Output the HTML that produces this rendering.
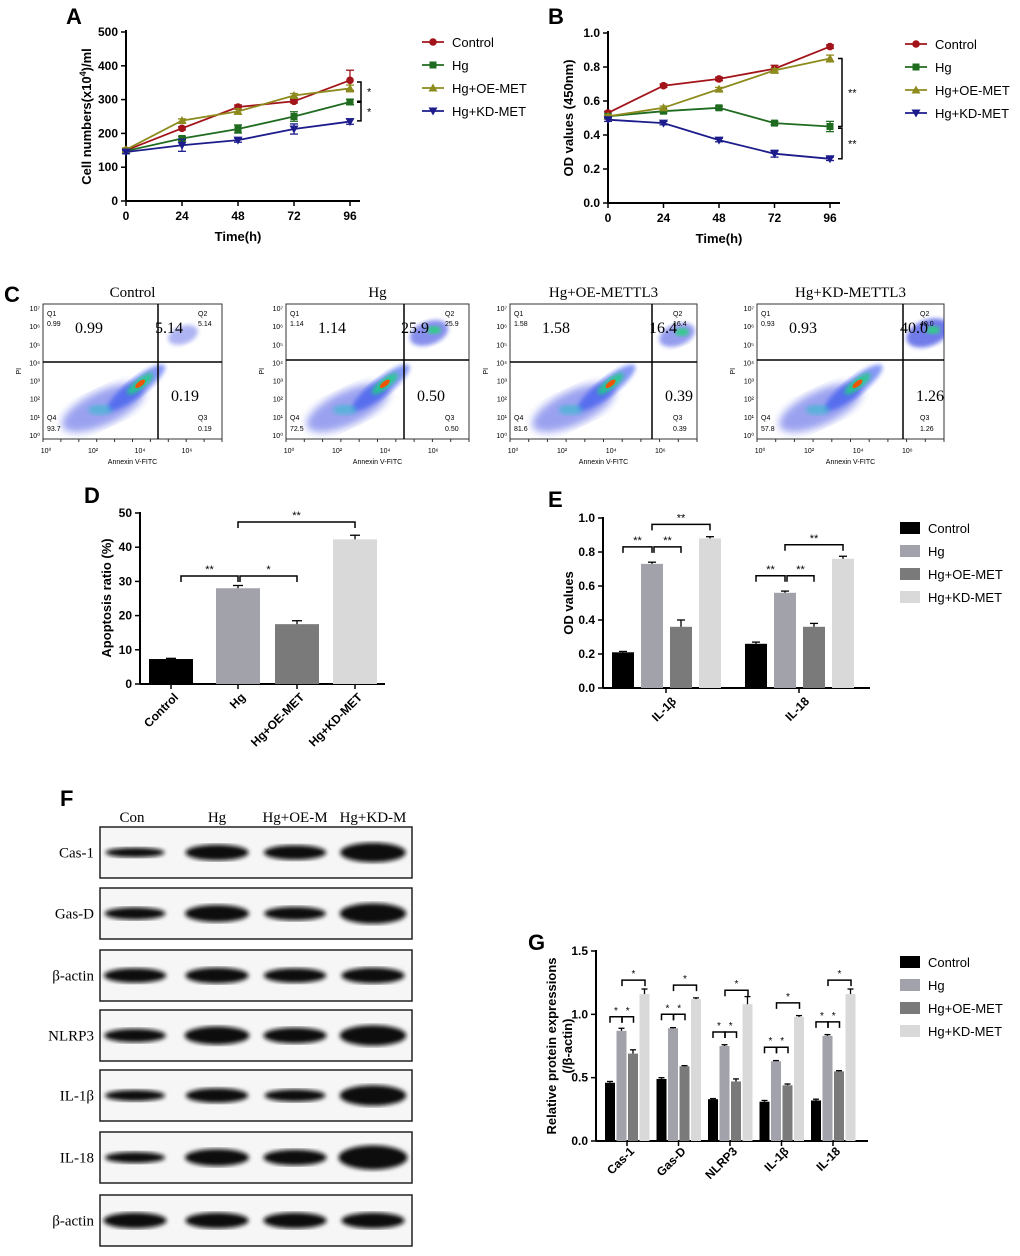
<!DOCTYPE html>
<html><head><meta charset="utf-8"><style>
body{margin:0;background:#fff}
svg{display:block}
text{font-family:"Liberation Sans",sans-serif}
.t{font-family:"Liberation Serif",serif}
</style></head><body>
<svg id="fig" width="1020" height="1256" viewBox="0 0 1020 1256" xmlns="http://www.w3.org/2000/svg">
<defs>
<filter id="blur2"><feGaussianBlur stdDeviation="2"/></filter>
<filter id="blur4"><feGaussianBlur stdDeviation="4"/></filter>
</defs>
</svg>
<script>
// ---------- data ----------
const timePoints=[0,24,48,72,96];
const groupNames=["Control","Hg","Hg+OE-MET","Hg+KD-MET"];
const cellControl=[150,215,278,295,357];
const cellHg=[148,185,213,250,293];
const cellOE=[152,238,265,312,333];
const cellKD=[145,165,180,213,235];
const cellErr=[[5,5,6,5,30],[5,6,12,14,8],[5,5,8,6,10],[5,18,6,15,8]];
const odControl=[0.53,0.69,0.73,0.79,0.92];
const odHg=[0.51,0.54,0.56,0.47,0.45];
const odOE=[0.51,0.56,0.67,0.78,0.85];
const odKD=[0.49,0.47,0.37,0.29,0.26];
const odErr=[[0.01,0.01,0.01,0.02,0.01],[0.01,0.01,0.01,0.01,0.03],[0.01,0.01,0.01,0.01,0.02],[0.01,0.01,0.01,0.02,0.01]];
const yTicksA=[0,100,200,300,400,500];
const yTicksB=[0,0.2,0.4,0.6,0.8,1.0];
const flowTitles=["Control","Hg","Hg+OE-METTL3","Hg+KD-METTL3"];
const flowQ1=["0.99","1.14","1.58","0.93"];
const flowQ2=["5.14","25.9","16.4","40.0"];
const flowQ3=["0.19","0.50","0.39","1.26"];
const flowQ4=["93.7","72.5","81.6","57.8"];
const apopCats=["Control","Hg","Hg+OE-MET","Hg+KD-MET"];
const apopVals=[7.3,28,17.5,42.3];
const apopErr=[0.2,0.8,1.0,1.2];
const yTicksD=[0,10,20,30,40,50];
const odCats=["IL-1β","IL-18"];
const odVals=[[0.21,0.26],[0.73,0.56],[0.36,0.36],[0.88,0.76]];
const odErrE=[[0.005,0.01],[0.01,0.01],[0.04,0.02],[0.01,0.015]];
const yTicksE=[0,0.2,0.4,0.6,0.8,1.0];
const blotLabels=["Cas-1","Gas-D","β-actin","NLRP3","IL-1β","IL-18","β-actin"];
const blotLanes=["Con","Hg","Hg+OE-M","Hg+KD-M"];
const blotIntensity=[[4,9,8,12],[6,10,7,13],[8,9,8,9],[7,11,9,13],[5,8,6,13],[5,10,9,16],[9,9,9,9]];
const protCats=["Cas-1","Gas-D","NLRP3","IL-1β","IL-18"];
const protVals=[[0.46,0.49,0.33,0.31,0.32],[0.87,0.89,0.75,0.63,0.83],[0.69,0.59,0.47,0.44,0.55],[1.16,1.12,1.08,0.98,1.16]];
const protErr=[[0.01,0.01,0.005,0.01,0.01],[0.02,0.005,0.01,0.005,0.01],[0.03,0.005,0.02,0.01,0.005],[0.04,0.01,0.06,0.01,0.04]];
const yTicksG=[0,0.5,1.0,1.5];

// ---------- helpers ----------
const S=document.getElementById('fig');
const NS="http://www.w3.org/2000/svg";
function mk(tag,attrs,parent){const e=document.createElementNS(NS,tag);for(const k in attrs)e.setAttribute(k,attrs[k]);(parent||S).appendChild(e);return e;}
function tx(x,y,s,attrs,parent){const e=mk('text',Object.assign({x:x,y:y},attrs||{}),parent);e.textContent=s;return e;}
function grp(name){const g=mk('g',{});return g;}

const lineColors=["#a3141a","#1f6b1f","#8d8b1d","#1c1c8c"];
const barColors=["#000000","#a2a2aa","#7a7a7a","#d9d9d9"];

function marker(g,shape,x,y,c){
  if(shape===0)mk('circle',{cx:x,cy:y,r:3.8,fill:c},g);
  else if(shape===1)mk('rect',{x:x-3.5,y:y-3.5,width:7,height:7,fill:c},g);
  else if(shape===2)mk('polygon',{points:`${x},${y-4.5} ${x-4.5},${y+3.5} ${x+4.5},${y+3.5}`,fill:c},g);
  else mk('polygon',{points:`${x},${y+4.5} ${x-4.5},${y-3.5} ${x+4.5},${y-3.5}`,fill:c},g);
}
function panelLetter(x,y,s){const t=tx(x,y,s,{'font-size':22,'font-weight':'bold'});}

// ---------- line chart ----------
function lineChart(name,x0,x1,yb,yt,ymax,yTicks,fmt,series,errs,ytitle,legendX,legendY,brackets){
  const g=grp(name);
  const xs=t=>x0+t/96*(x1-x0);
  const ys=v=>yb-v/ymax*(yb-yt);
  mk('line',{x1:x0,y1:yt-2,x2:x0,y2:yb,stroke:'#000','stroke-width':2},g);
  mk('line',{x1:x0,y1:yb,x2:x1+10,y2:yb,stroke:'#000','stroke-width':2},g);
  yTicks.forEach(v=>{mk('line',{x1:x0-5,y1:ys(v),x2:x0,y2:ys(v),stroke:'#000','stroke-width':1.5},g);
    const t=tx(x0-8,ys(v)+4,fmt(v),{'font-size':12,'font-weight':'bold','text-anchor':'end'},g);});
  timePoints.forEach(v=>{mk('line',{x1:xs(v),y1:yb,x2:xs(v),y2:yb+5,stroke:'#000','stroke-width':1.5},g);
    const t=tx(xs(v),yb+19,String(v),{'font-size':12,'font-weight':'bold','text-anchor':'middle'},g);});
  const xt=tx((x0+x1)/2,yb+40,'Time(h)',{'font-size':13,'font-weight':'bold','text-anchor':'middle'},g);
  
  const yt2=tx(0,0,'',{'font-size':13,'font-weight':'bold','text-anchor':'middle',transform:`translate(${x0-35},${(yb+yt)/2}) rotate(-90)`},g);
  yt2.innerHTML=ytitle;
  series.forEach((s,i)=>{
    const pts=s.map((v,j)=>xs(timePoints[j])+','+ys(v)).join(' ');
    const pl=mk('polyline',{points:pts,fill:'none',stroke:lineColors[i],'stroke-width':1.8},g);
    
    s.forEach((v,j)=>{const x=xs(timePoints[j]);const e=errs[i][j];
      mk('line',{x1:x,y1:ys(v+e),x2:x,y2:ys(v-e),stroke:lineColors[i],'stroke-width':1.3},g);
      mk('line',{x1:x-4,y1:ys(v+e),x2:x+4,y2:ys(v+e),stroke:lineColors[i],'stroke-width':1.3},g);
      mk('line',{x1:x-4,y1:ys(v-e),x2:x+4,y2:ys(v-e),stroke:lineColors[i],'stroke-width':1.3},g);
      marker(g,i,x,ys(v),lineColors[i]);});
    const ly=legendY+i*23;
    const lg=grp('legend-entry-'+groupNames[i].toLowerCase());
    mk('line',{x1:legendX,y1:ly,x2:legendX+22,y2:ly,stroke:lineColors[i],'stroke-width':1.8},lg);
    marker(lg,i,legendX+11,ly,lineColors[i]);
    tx(legendX+30,ly+5,groupNames[i],{'font-size':13},lg);
  });
  brackets.forEach(b=>{
    const bx=b[0],y1=ys(b[1]),y2=ys(b[2]);
    const bg=grp('significance-bracket');
    mk('polyline',{points:`${bx-4},${y1} ${bx},${y1} ${bx},${y2} ${bx-4},${y2}`,fill:'none',stroke:'#000','stroke-width':1.5},bg);
    tx(bx+6,(y1+y2)/2+4,b[3],{'font-size':11},bg);
  });
}
panelLetter(66,24,'A');
lineChart('cell-number-chart',126,350,201,32,500,yTicksA,v=>String(v),[cellControl,cellHg,cellOE,cellKD],cellErr,'Cell numbers(x10<tspan dy="-5" font-size="9">4</tspan><tspan dy="5">)/ml</tspan>',422,42,[[361,352,295,'*'],[361,292,237,'*']]);
panelLetter(548,24,'B');
lineChart('od-value-chart',608,830,203,33,1.0,yTicksB,v=>v.toFixed(1),[odControl,odHg,odOE,odKD],odErr,'OD values (450nm)',905,44,[[842,0.85,0.45,'**'],[842,0.44,0.26,'**']]);

// ---------- flow plots ----------
panelLetter(4,302,'C');
const flowBoxes=[[43,222,158,362],[286,469,404,360],[510,697,652,362],[757,944,903,360]];
const flowCore=[[0.15],[0.6],[0.45],[0.85]];
flowTitles.forEach((ttl,i)=>{
  const [l,r,vx,hy]=flowBoxes[i];const top=304,bot=439;
  const g=grp('flow-plot-'+(i+1));
  tx((l+r)/2,297,ttl,{'font-size':15,'text-anchor':'middle',class:'t'},g);
  mk('rect',{x:l,y:top,width:r-l,height:bot-top,fill:'#fff',stroke:'#333','stroke-width':1},g);
  const cp=mk('clipPath',{id:'clip'+i},g);
  mk('rect',{x:l,y:top,width:r-l,height:bot-top},cp);
  const c=mk('g',{'clip-path':`url(#clip${i})`},g);
  const cx=l+(r-l)*0.42,cy=top+(bot-top)*0.68;
  mk('ellipse',{cx:cx-15,cy:cy+12,rx:45,ry:17,fill:'#2233dd',opacity:0.45,transform:`rotate(-25 ${cx-15} ${cy+12})`,filter:'url(#blur4)'},c);
  mk('ellipse',{cx:cx+18,cy:cy-8,rx:36,ry:9,fill:'#2244ee',opacity:0.55,transform:`rotate(-38 ${cx+18} ${cy-8})`,filter:'url(#blur2)'},c);
  mk('ellipse',{cx:cx+22,cy:cy-12,rx:16,ry:5,fill:'#22cc88',opacity:0.9,transform:`rotate(-38 ${cx+22} ${cy-12})`,filter:'url(#blur2)'},c);
  mk('ellipse',{cx:cx+22,cy:cy-12,rx:6,ry:2.5,fill:'#ee5500',transform:`rotate(-38 ${cx+22} ${cy-12})`},c);
  mk('ellipse',{cx:cx-18,cy:cy+14,rx:12,ry:5,fill:'#33bbcc',opacity:0.6,filter:'url(#blur2)'},c);
  const q=flowCore[i][0];
  mk('ellipse',{cx:vx+25,cy:hy-27,rx:14+q*10,ry:8+q*6,fill:'#2233dd',opacity:0.3+q*0.4,transform:`rotate(-20 ${vx+25} ${hy-27})`,filter:'url(#blur2)'},c);
  if(i>0)mk('ellipse',{cx:vx+30,cy:hy-30,rx:7,ry:4,fill:'#33cc88',filter:'url(#blur2)'},c);
  mk('line',{x1:vx,y1:top,x2:vx,y2:bot,stroke:'#000','stroke-width':1.5},g);
  mk('line',{x1:l,y1:hy,x2:r,y2:hy,stroke:'#000','stroke-width':1.5},g);
  tx(l+4,top+12,'Q1',{'font-size':7},g);tx(l+4,top+22,flowQ1[i],{'font-size':7},g);
  tx(r-24,top+12,'Q2',{'font-size':7},g);tx(r-24,top+22,flowQ2[i],{'font-size':7},g);
  tx(l+4,bot-19,'Q4',{'font-size':7},g);tx(l+4,bot-8,flowQ4[i],{'font-size':7},g);
  tx(r-24,bot-19,'Q3',{'font-size':7},g);tx(r-24,bot-8,flowQ3[i],{'font-size':7},g);
  tx(l+32,top+29,flowQ1[i],{'font-size':16,class:'t'},g);
  tx(vx-3,top+29,flowQ2[i],{'font-size':16,class:'t'},g);
  tx(vx+13,bot-38,flowQ3[i],{'font-size':16,class:'t'},g);
  const yl=['10⁷','10⁶','10⁵','10⁴','10³','10²','10¹','10⁰'];
  yl.forEach((s,k)=>tx(l-3,top+7+k*(bot-top-8)/7,s,{'font-size':7,'text-anchor':'end'},g));
  ['10⁰','10²','10⁴','10⁶'].forEach((s,k)=>tx(l+3+k*47*(r-l)/179,bot+14,s,{'font-size':7,'text-anchor':'middle'},g));
  for(let k=0;k<=10;k++)mk('line',{x1:l+k*(r-l)/10,y1:bot,x2:l+k*(r-l)/10,y2:bot+3,stroke:'#333'},g);
  tx((l+r)/2,bot+25,'Annexin V-FITC',{'font-size':7,'text-anchor':'middle'},g);
  tx(0,0,'PI',{'font-size':7,transform:`translate(${l-22},${(top+bot)/2+3}) rotate(-90)`},g);
});

// ---------- bar chart helper ----------
function axisY(g,x0,yb,yt,vmax,ticks,fmt){
  const ys=v=>yb-v/vmax*(yb-yt);
  mk('line',{x1:x0,y1:yt-1,x2:x0,y2:yb,stroke:'#000','stroke-width':2},g);
  ticks.forEach(v=>{mk('line',{x1:x0-5,y1:ys(v),x2:x0,y2:ys(v),stroke:'#000','stroke-width':1.5},g);
    const t=tx(x0-8,ys(v)+4,fmt(v),{'font-size':12,'font-weight':'bold','text-anchor':'end'},g);});
  return ys;
}
function errBar(g,x,ytop,yerr,w){mk('line',{x1:x,y1:ytop,x2:x,y2:yerr,stroke:'#000','stroke-width':1.3},g);mk('line',{x1:x-w,y1:yerr,x2:x+w,y2:yerr,stroke:'#000','stroke-width':1.3},g);}
function bracket(g,x1,x2,y,s,fs){mk('polyline',{points:`${x1},${y+6} ${x1},${y} ${x2},${y} ${x2},${y+6}`,fill:'none',stroke:'#000','stroke-width':1.5},g);tx((x1+x2)/2,y-3,s,{'font-size':fs||11,'text-anchor':'middle'},g);}

// ---------- D ----------
panelLetter(84,503,'D');
(function(){
  const g=grp('apoptosis-chart');
  const ys=axisY(g,140,684,513,50,yTicksD,v=>String(v));
  mk('line',{x1:140,y1:684,x2:385,y2:684,stroke:'#000','stroke-width':2},g);
  const cx=[171,238,297,355];
  apopVals.forEach((v,i)=>{
    const b=mk('rect',{x:cx[i]-22,y:ys(v),width:44,height:684-ys(v),fill:barColors[i]},g);
    
    errBar(g,cx[i],ys(v),ys(v+apopErr[i]),5);
    mk('line',{x1:cx[i],y1:684,x2:cx[i],y2:689,stroke:'#000','stroke-width':1.5},g);
    tx(0,0,apopCats[i],{'font-size':12,'font-weight':'bold','text-anchor':'end',transform:`translate(${cx[i]+8},${698}) rotate(-45)`},g);
  });
  tx(0,0,'Apoptosis ratio (%)',{'font-size':13,'font-weight':'bold','text-anchor':'middle',transform:`translate(111,598) rotate(-90)`},g);
  bracket(g,181,238,576,'**');bracket(g,240,297,576,'*');bracket(g,238,355,522,'**');
})();

// ---------- E ----------
panelLetter(548,507,'E');
(function(){
  const g=grp('il-od-chart');
  const ys=axisY(g,603,688,518,1.0,yTicksE,v=>v.toFixed(1));
  mk('line',{x1:603,y1:688,x2:870,y2:688,stroke:'#000','stroke-width':2},g);
  const gx=[612,745];
  odCats.forEach((c,j)=>{
    for(let i=0;i<4;i++){const x=gx[j]+i*29;const v=odVals[i][j];
      const b=mk('rect',{x:x,y:ys(v),width:22,height:688-ys(v),fill:barColors[i]},g);
      
      errBar(g,x+11,ys(v),ys(v+odErrE[i][j]),4);}
    mk('line',{x1:gx[j]+54,y1:688,x2:gx[j]+54,y2:693,stroke:'#000','stroke-width':1.5},g);
    tx(0,0,c,{'font-size':12,'font-weight':'bold','text-anchor':'end',transform:`translate(${gx[j]+65},${702}) rotate(-45)`},g);
    bracket(g,gx[j]+11,gx[j]+40,ys(odVals[1][j])-17,'**');
    bracket(g,gx[j]+42,gx[j]+69,ys(odVals[1][j])-17,'**');
    bracket(g,gx[j]+40,gx[j]+98,ys(odVals[3][j])-14,'**');
  });
  tx(0,0,'OD values',{'font-size':13,'font-weight':'bold','text-anchor':'middle',transform:`translate(573,603) rotate(-90)`},g);
  groupNames.forEach((n,i)=>{const lg=grp('legend-entry-'+n.toLowerCase());
    mk('rect',{x:900,y:522+i*23,width:20,height:12,fill:barColors[i]},lg);tx(928,533+i*23,n,{'font-size':13},lg);});
})();

// ---------- F blots ----------
panelLetter(60,806,'F');
(function(){
  const g=grp('western-blot');
  const laneX=[135,217,295,373];
  blotLanes.forEach((s,i)=>tx(laneX[i]-(i==0?3:0),822,s,{'font-size':15,'text-anchor':'middle',class:'t'},g));
  const tops=[827,888,950,1010,1070,1132,1195];
  blotLabels.forEach((lab,r)=>{
    const y=tops[r],h=51;
    const rg=grp('blot-row-'+lab.toLowerCase());
    mk('rect',{x:100,y:y,width:312,height:h,fill:'#f6f6f6',stroke:'#222','stroke-width':1.5},rg);
    tx(94,y+h/2+5,lab,{'font-size':15,'text-anchor':'end',class:'t'},rg);
    blotIntensity[r].forEach((v,i)=>{
      mk('ellipse',{cx:laneX[i],cy:y+h/2,rx:28+v*0.4,ry:2.5+v*0.6,fill:'#111',filter:'url(#blur2)'},rg);
    });
  });
})();

// ---------- G ----------
panelLetter(528,950,'G');
(function(){
  const g=grp('protein-expression-chart');
  const ys=axisY(g,596,1141,951,1.5,yTicksG,v=>v.toFixed(1));
  mk('line',{x1:596,y1:1141,x2:868,y2:1141,stroke:'#000','stroke-width':2},g);
  const bw=10,step=11.5,gstep=51.5,x0=605;
  protCats.forEach((c,j)=>{
    const gx=x0+j*gstep;
    for(let i=0;i<4;i++){const x=gx+i*step;const v=protVals[i][j];
      const b=mk('rect',{x:x,y:ys(v),width:bw,height:1141-ys(v),fill:barColors[i]},g);
      
      errBar(g,x+bw/2,ys(v),ys(v+protErr[i][j]),3);}
    mk('line',{x1:gx+22,y1:1141,x2:gx+22,y2:1146,stroke:'#000','stroke-width':1.5},g);
    tx(0,0,c,{'font-size':12,'font-weight':'bold','text-anchor':'end',transform:`translate(${gx+30},${1152}) rotate(-45)`},g);
    const hy=ys(protVals[1][j])-14;
    bracket(g,gx+5,gx+17,hy,'*',10);bracket(g,gx+17,gx+28.5,hy,'*',10);
    bracket(g,gx+17,gx+40,ys(protVals[3][j])-14,'*',10);
  });
  const t=tx(0,0,'',{'font-size':13,'font-weight':'bold','text-anchor':'middle',transform:`translate(556,1046) rotate(-90)`},g);
  t.innerHTML='<tspan x="0" dy="0">Relative protein expressions</tspan><tspan x="0" dy="16">(/β-actin)</tspan>';
  groupNames.forEach((n,i)=>{const lg=grp('legend-entry-g-'+n.toLowerCase());
    mk('rect',{x:900,y:956+i*23,width:20,height:12,fill:barColors[i]},lg);tx(928,967+i*23,n,{'font-size':13},lg);});
})();
</script>
</body></html>
